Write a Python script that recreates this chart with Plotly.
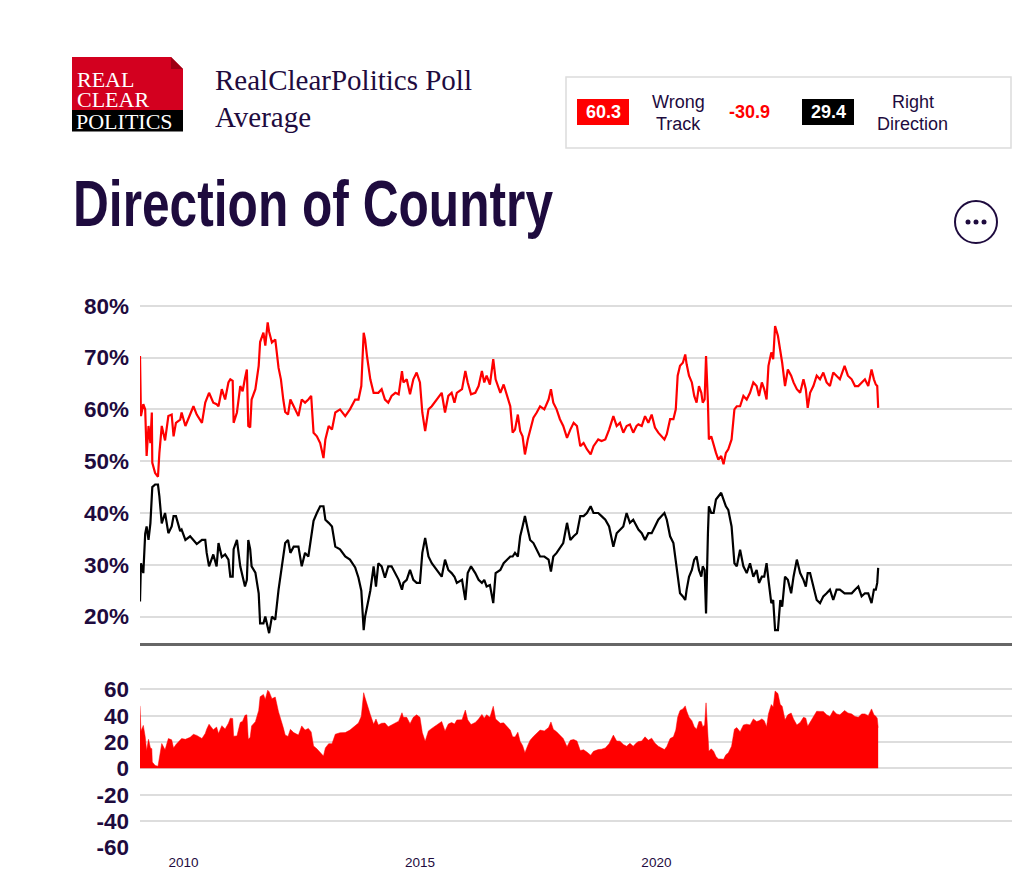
import plotly.graph_objects as go

# poll dates as decimal years
years = [
    2009.08, 2009.10, 2009.15, 2009.19, 2009.22, 2009.26, 2009.30, 2009.33, 2009.34, 2009.40,
    2009.46, 2009.49, 2009.54, 2009.61, 2009.68, 2009.75, 2009.79, 2009.84, 2009.93, 2009.96,
    2010.04, 2010.14, 2010.21, 2010.28, 2010.39, 2010.46, 2010.49, 2010.54, 2010.63, 2010.70,
    2010.74, 2010.81, 2010.88, 2010.95, 2010.99, 2011.04, 2011.06, 2011.13, 2011.20, 2011.25,
    2011.30, 2011.34, 2011.37, 2011.41, 2011.44, 2011.52, 2011.59, 2011.62, 2011.69, 2011.73,
    2011.78, 2011.81, 2011.87, 2011.94, 2012.01, 2012.06, 2012.11, 2012.15, 2012.21, 2012.26,
    2012.33, 2012.43, 2012.50, 2012.57, 2012.64, 2012.70, 2012.75, 2012.82, 2012.89, 2012.96,
    2013.00, 2013.07, 2013.14, 2013.21, 2013.31, 2013.42, 2013.52, 2013.63, 2013.70, 2013.76,
    2013.81, 2013.84, 2013.88, 2013.95, 2014.02, 2014.07, 2014.12, 2014.19, 2014.26, 2014.33,
    2014.40, 2014.48, 2014.55, 2014.62, 2014.65, 2014.72, 2014.79, 2014.86, 2014.93, 2015.00,
    2015.05, 2015.11, 2015.18, 2015.25, 2015.36, 2015.46, 2015.53, 2015.60, 2015.67, 2015.73,
    2015.78, 2015.89, 2015.96, 2016.01, 2016.08, 2016.17, 2016.24, 2016.31, 2016.36, 2016.41,
    2016.48, 2016.55, 2016.60, 2016.70, 2016.77, 2016.84, 2016.91, 2016.96, 2017.01, 2017.07,
    2017.12, 2017.17, 2017.22, 2017.28, 2017.33, 2017.40, 2017.47, 2017.54, 2017.63, 2017.72,
    2017.77, 2017.82, 2017.89, 2017.96, 2018.03, 2018.11, 2018.18, 2018.25, 2018.32, 2018.39,
    2018.46, 2018.53, 2018.61, 2018.67, 2018.77, 2018.84, 2018.92, 2019.00, 2019.09, 2019.16,
    2019.23, 2019.30, 2019.37, 2019.44, 2019.51, 2019.58, 2019.62, 2019.69, 2019.76, 2019.83,
    2019.90, 2019.97, 2020.04, 2020.11, 2020.17, 2020.22, 2020.29, 2020.36, 2020.41, 2020.45,
    2020.50, 2020.56, 2020.61, 2020.64, 2020.69, 2020.75, 2020.80, 2020.85, 2020.90, 2020.95,
    2020.98, 2021.02, 2021.05, 2021.09, 2021.11, 2021.16, 2021.21, 2021.26, 2021.31, 2021.37,
    2021.42, 2021.47, 2021.52, 2021.59, 2021.65, 2021.70, 2021.77, 2021.84, 2021.91, 2021.98,
    2022.05, 2022.12, 2022.17, 2022.23, 2022.28, 2022.33, 2022.37, 2022.43, 2022.47, 2022.51,
    2022.57, 2022.62, 2022.66, 2022.72, 2022.78, 2022.85, 2022.90, 2022.97, 2023.04, 2023.11,
    2023.16, 2023.20, 2023.25, 2023.32, 2023.39, 2023.46, 2023.53, 2023.60, 2023.67, 2023.74,
    2023.81, 2023.88, 2023.98, 2024.05, 2024.13, 2024.20, 2024.27, 2024.34, 2024.41, 2024.48,
    2024.55, 2024.60, 2024.64, 2024.67, 2024.69,
]

wrong_track = [
    70.3, 58.7, 61.0, 60.0, 51.0, 56.8, 53.5, 59.4, 49.7, 47.7,
    47.0, 51.6, 56.8, 54.0, 58.7, 59.0, 54.8, 57.4, 58.0, 59.4,
    56.8, 59.0, 60.6, 59.0, 57.4, 61.3, 62.0, 63.2, 61.3, 61.0,
    60.6, 63.9, 61.9, 65.2, 65.8, 65.5, 57.4, 59.4, 64.5, 63.5,
    66.0, 67.7, 56.8, 56.5, 61.9, 63.9, 68.4, 73.0, 74.8, 72.3,
    76.8, 75.0, 72.9, 73.5, 68.0, 65.8, 61.9, 59.5, 59.0, 61.9,
    60.6, 58.7, 61.9, 61.3, 61.9, 62.6, 55.5, 54.8, 53.5, 50.6,
    54.2, 56.8, 56.1, 59.4, 60.0, 58.7, 60.0, 61.9, 61.9, 64.5,
    74.8, 73.5, 70.3, 65.8, 63.2, 63.2, 63.2, 63.9, 61.9, 61.3,
    62.6, 63.2, 62.9, 67.4, 65.2, 65.8, 62.9, 65.8, 67.1, 65.2,
    59.4, 55.8, 60.0, 60.6, 61.9, 63.2, 59.4, 62.6, 63.2, 61.3,
    63.2, 63.9, 67.4, 65.2, 62.9, 63.2, 64.5, 67.4, 65.2, 66.5,
    64.8, 69.7, 65.8, 63.2, 64.8, 62.6, 60.6, 55.5, 56.1, 59.0,
    55.8, 54.8, 51.3, 54.2, 56.1, 58.4, 59.4, 60.6, 60.0, 61.9,
    63.9, 61.3, 60.0, 58.1, 56.8, 54.5, 56.1, 57.4, 56.8, 52.9,
    53.5, 52.3, 51.3, 52.9, 54.2, 53.9, 54.2, 56.1, 58.7, 56.8,
    57.4, 55.5, 56.8, 57.1, 55.5, 56.8, 57.1, 56.8, 58.7, 57.4,
    59.0, 56.5, 55.5, 54.8, 54.2, 55.2, 58.1, 58.1, 60.0, 66.5,
    68.4, 69.0, 70.6, 68.7, 66.5, 65.2, 62.6, 61.3, 64.5, 63.2,
    61.3, 61.9, 70.3, 61.3, 54.2, 54.8, 52.9, 51.6, 50.3, 51.0,
    49.4, 51.6, 52.3, 54.2, 60.0, 60.6, 60.6, 62.6, 61.9, 63.2,
    65.2, 64.5, 62.6, 65.2, 63.9, 61.9, 68.4, 71.0, 69.7, 76.1,
    74.2, 71.6, 69.0, 64.5, 67.7, 66.5, 65.2, 63.9, 63.2, 65.8,
    63.9, 60.3, 63.2, 64.5, 66.5, 65.8, 67.1, 65.2, 64.5, 67.1,
    66.5, 65.8, 68.4, 66.5, 65.8, 64.5, 64.5, 65.2, 65.8, 64.5,
    67.7, 65.8, 64.8, 64.5, 60.3,
]

right_direction = [
    22.9, 30.3, 28.4, 36.0, 37.4, 34.8, 38.0, 44.5, 45.0, 45.5,
    45.5, 43.2, 38.0, 40.0, 36.1, 37.4, 39.4, 39.4, 36.5, 36.8,
    34.8, 35.5, 34.8, 34.0, 34.8, 34.8, 32.3, 29.7, 32.0, 29.7,
    34.2, 31.5, 32.0, 31.0, 27.7, 27.7, 33.0, 34.8, 29.7, 27.7,
    25.8, 27.1, 34.8, 33.0, 29.7, 28.5, 24.5, 18.7, 18.7, 20.0,
    17.5, 16.8, 20.0, 19.4, 25.2, 28.4, 31.0, 34.2, 34.8, 32.3,
    33.5, 33.5, 29.7, 32.3, 31.6, 35.0, 38.5, 40.0, 41.3, 41.3,
    38.7, 38.1, 37.4, 33.5, 33.0, 31.6, 31.0, 29.5, 27.5, 25.0,
    17.4, 20.0, 21.9, 25.0, 29.7, 25.8, 30.3, 29.7, 27.5, 29.7,
    29.7, 28.4, 27.1, 25.2, 26.5, 27.1, 29.0, 27.1, 26.5, 26.5,
    32.3, 35.2, 31.6, 30.3, 29.0, 27.7, 31.0, 29.0, 28.4, 27.7,
    26.5, 27.1, 23.2, 28.4, 29.7, 28.4, 27.1, 26.5, 27.1, 25.8,
    26.1, 22.6, 28.4, 29.0, 30.3, 31.0, 31.6, 31.6, 32.3, 31.6,
    35.5, 37.4, 39.4, 36.8, 34.8, 34.2, 32.9, 31.6, 31.6, 31.0,
    28.7, 31.6, 32.3, 33.2, 34.2, 38.1, 34.8, 35.5, 36.1, 39.4,
    39.4, 40.0, 41.3, 40.0, 40.0, 39.4, 38.7, 37.4, 33.5, 36.1,
    36.8, 37.4, 40.0, 38.1, 38.7, 37.4, 36.8, 36.1, 34.8, 36.1,
    36.1, 37.4, 38.7, 39.4, 40.0, 38.7, 35.5, 34.2, 31.0, 27.7,
    24.5, 23.9, 23.2, 25.2, 27.7, 29.0, 31.0, 31.6, 29.0, 27.7,
    29.7, 29.0, 20.6, 36.1, 41.3, 40.0, 40.0, 42.6, 43.2, 43.9,
    42.6, 41.3, 40.6, 37.4, 30.3, 29.7, 32.9, 29.7, 28.4, 30.3,
    27.7, 29.0, 26.5, 27.7, 27.7, 30.3, 27.1, 22.6, 23.2, 17.4,
    17.4, 23.2, 21.9, 27.7, 27.1, 24.5, 27.7, 31.0, 28.4, 27.1,
    25.8, 28.4, 28.4, 25.8, 23.2, 22.6, 23.9, 24.5, 25.2, 23.2,
    25.2, 25.2, 24.5, 24.5, 24.5, 25.2, 25.8, 23.9, 24.5, 24.5,
    22.6, 25.2, 25.2, 26.5, 29.4,
]

# bottom panel: wrong track minus right direction
spread = [round(w - r, 1) for w, r in zip(wrong_track, right_direction)]

pct_ticks = [20, 30, 40, 50, 60, 70, 80]
spread_ticks = [-60, -40, -20, 0, 20, 40, 60]
year_ticks = [2010, 2015, 2020]

NAVY = '#1e0b3e'
RED = '#ff0000'
GRID = '#dddddd'
SERIF = 'Liberation Serif, Times New Roman, serif'
SANS = 'Liberation Sans, Arial, sans-serif'

# the page body adds an 8px margin, so the figure is a bit smaller than the window
OFF = 8
W, H = 1016, 882
ML, MR, MT, MB = 132, 12, 290, 42
PW, PH = W - ML - MR, H - MT - MB


# screen pixel -> paper coords
def px(x):
    return (x - OFF - ML) / PW


def py(y):
    return (H - MB - (y - OFF)) / PH


fig = go.Figure()

fig.add_trace(go.Scatter(x=years, y=wrong_track, mode='lines', name='Wrong Track',
                         line=dict(color=RED, width=2.2), xaxis='x', yaxis='y'))
fig.add_trace(go.Scatter(x=years, y=right_direction, mode='lines', name='Right Direction',
                         line=dict(color='#000000', width=2.2), xaxis='x', yaxis='y'))
fig.add_trace(go.Scatter(x=years, y=spread, mode='lines', name='Spread', fill='tozeroy',
                         fillcolor=RED, line=dict(color=RED, width=0.5), xaxis='x2', yaxis='y2'))

x_range = [2009.08, 2027.52]
tick_font = dict(family=SANS, size=22.5, color=NAVY, weight='bold')

fig.update_layout(
    width=W, height=H,
    margin=dict(l=ML, r=MR, t=MT, b=MB),
    paper_bgcolor='white', plot_bgcolor='white',
    showlegend=False,
    xaxis=dict(range=x_range, showgrid=False, showticklabels=False, zeroline=False,
               showline=True, linecolor='#666666', linewidth=3, anchor='y'),
    yaxis=dict(domain=[py(642.5), 1], range=[15, 81.5], tickmode='array', tickvals=pct_ticks,
               ticktext=[f'{v}%' for v in pct_ticks],
               showgrid=True, gridcolor=GRID, gridwidth=1.5, zeroline=False,
               tickfont=tick_font, ticklabelstandoff=10),
    xaxis2=dict(range=x_range, showgrid=False, zeroline=False, anchor='y2',
                tickmode='array', tickvals=year_ticks, ticktext=[str(y) for y in year_ticks],
                tickfont=dict(family=SANS, size=13.5, color=NAVY),
                ticklabelstandoff=4),
    yaxis2=dict(domain=[0, py(682.7)], range=[-60.5, 65], tickmode='array', tickvals=spread_ticks,
                ticktext=[str(v) for v in spread_ticks],
                showgrid=True, gridcolor=GRID, gridwidth=1.5, zeroline=False,
                tickfont=tick_font, ticklabelstandoff=10),
)

shapes = []
# logo
shapes.append(dict(type='rect', xref='paper', yref='paper', x0=px(72), x1=px(183), y0=py(110), y1=py(57),
                   fillcolor='#d3001f', line=dict(width=0), layer='above'))
shapes.append(dict(type='rect', xref='paper', yref='paper', x0=px(72), x1=px(183), y0=py(131.5), y1=py(110),
                   fillcolor='#000000', line=dict(width=0), layer='above'))
shapes.append(dict(type='path', xref='paper', yref='paper', layer='above',
                   path=f'M {px(171)} {py(57)} L {px(183.5)} {py(57)} L {px(183.5)} {py(69.5)} Z',
                   fillcolor='white', line=dict(width=0)))
shapes.append(dict(type='path', xref='paper', yref='paper', layer='above',
                   path=f'M {px(171)} {py(57)} L {px(183)} {py(69)} L {px(171)} {py(69)} Z',
                   fillcolor='#9e0014', line=dict(width=0)))
# summary box
shapes.append(dict(type='rect', xref='paper', yref='paper', x0=px(566), x1=px(1011), y0=py(148), y1=py(77),
                   fillcolor='white', line=dict(color='#dcdcdc', width=1.5), layer='above'))
shapes.append(dict(type='rect', xref='paper', yref='paper', x0=px(577), x1=px(629), y0=py(125), y1=py(99),
                   fillcolor=RED, line=dict(width=0), layer='above'))
shapes.append(dict(type='rect', xref='paper', yref='paper', x0=px(802), x1=px(854), y0=py(125), y1=py(99),
                   fillcolor='#000000', line=dict(width=0), layer='above'))
# menu button
shapes.append(dict(type='circle', xref='paper', yref='paper', x0=px(955), x1=px(997), y0=py(243), y1=py(201),
                   fillcolor='white', line=dict(color=NAVY, width=2), layer='above'))
for cx in [968, 976, 984]:
    shapes.append(dict(type='circle', xref='paper', yref='paper', x0=px(cx - 2.5), x1=px(cx + 2.5),
                       y0=py(224.5), y1=py(219.5), fillcolor=NAVY, line=dict(width=0), layer='above'))
fig.update_layout(shapes=shapes)


def label(x, y, text, size, color, family=SANS, weight='normal', xanchor='center'):
    fig.add_annotation(x=px(x), y=py(y), xref='paper', yref='paper', text=text, showarrow=False,
                       xanchor=xanchor, yanchor='middle', align='left' if xanchor == 'left' else 'center',
                       font=dict(family=family, size=size, color=color, weight=weight))


label(75, 79, 'REAL', 22, 'white', family=SERIF, xanchor='left')
label(75, 100, 'CLEAR', 22, 'white', family=SERIF, xanchor='left')
label(74, 121, 'POLITICS', 22, 'white', family=SERIF, xanchor='left')
label(213, 80, 'RealClearPolitics Poll', 29, NAVY, family=SERIF, xanchor='left')
label(213, 117, 'Average', 29, NAVY, family=SERIF, xanchor='left')

label(603, 112, '60.3', 18, 'white', weight='bold')
label(678, 102, 'Wrong', 18, NAVY)
label(678, 124, 'Track', 18, NAVY)
label(749.5, 112, '-30.9', 18, RED, weight='bold')
label(828, 112, '29.4', 18, 'white', weight='bold')
label(912.5, 102, 'Right', 18, NAVY)
label(912.5, 124, 'Direction', 18, NAVY)

label(71, 204, 'Direction of Country', 64, NAVY, weight='bold', xanchor='left')

# no condensed bold font is installed, so squeeze the title to its width
squeeze_title = """
var gd = document.getElementById('{plot_id}');
gd.querySelectorAll('text.annotation-text').forEach(function (el) {
  if (el.textContent === 'Direction of Country') {
    el.setAttribute('textLength', '480');
    el.setAttribute('lengthAdjust', 'spacingAndGlyphs');
  }
});
"""

fig.write_html("out.html", post_script=squeeze_title)
